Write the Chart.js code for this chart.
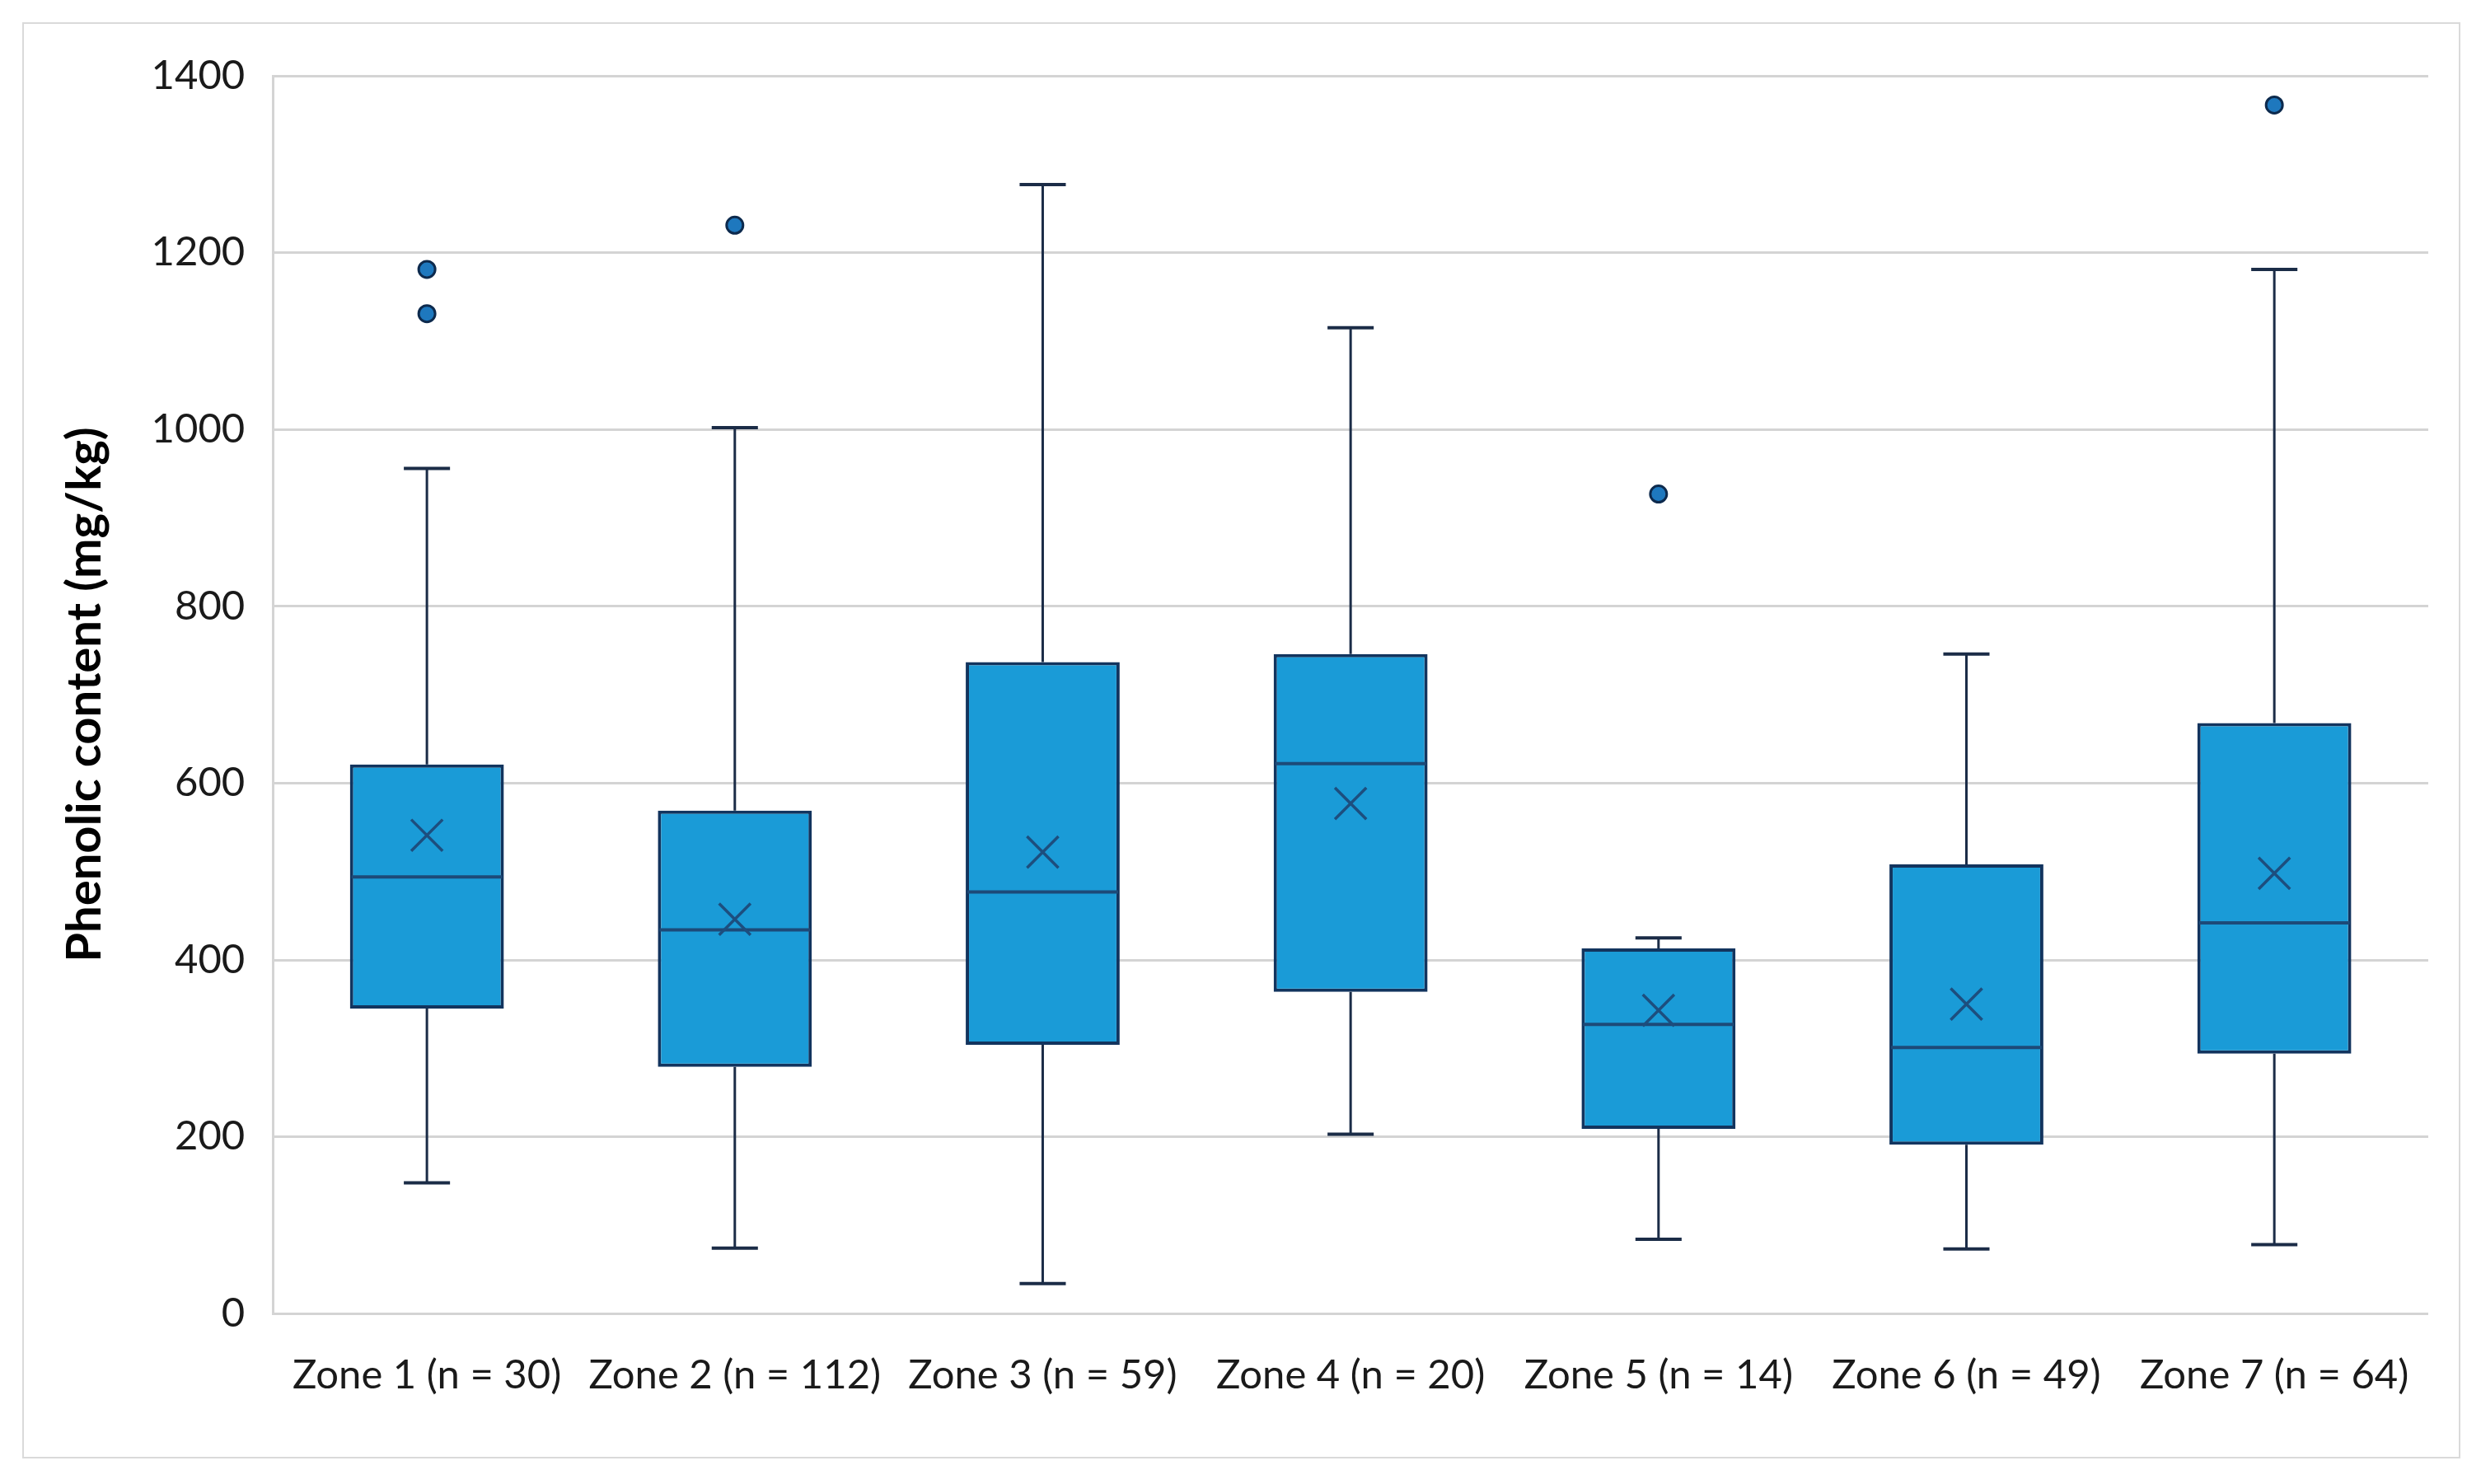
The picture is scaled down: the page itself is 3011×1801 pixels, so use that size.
<!DOCTYPE html>
<html>
<head>
<meta charset="utf-8">
<script src="https://cdn.jsdelivr.net/npm/chart.js@4.4.1/dist/chart.umd.min.js"></script>
<style>
  html, body { margin: 0; padding: 0; background: #fff; }
  #frame { position: absolute; left: 27px; top: 27px; width: 2955px; height: 1739px; border: 2px solid #dadada; }
  #myChart { position: absolute; left: 0; top: 0; }
</style>
</head>
<body>
<div id="frame"></div>
<canvas id="myChart" width="3011" height="1801"></canvas>
<script>
const ctx = document.getElementById('myChart').getContext('2d');

const labels = [
  'Zone 1 (n = 30)',
  'Zone 2 (n = 112)',
  'Zone 3 (n = 59)',
  'Zone 4 (n = 20)',
  'Zone 5 (n = 14)',
  'Zone 6 (n = 49)',
  'Zone 7 (n = 64)',
];

// box plot statistics
const whiskerLow = [148, 74, 34, 203, 84, 73, 78];
const q1 = [345, 279, 304, 364, 209, 191, 294];
const median = [494, 434, 477, 622, 327, 301, 442];
const q3 = [621, 569, 737, 746, 413, 508, 668];
const whiskerHigh = [956, 1002, 1277, 1115, 425, 746, 1181];
const means = [541, 446, 522, 577, 343, 350, 498];

// outliers: zone index + value
const outlierZone = [0, 0, 1, 4, 6];
const outlierValue = [1181, 1131, 1231, 927, 1367];

const yTicks = [0, 200, 400, 600, 800, 1000, 1200, 1400];

const fontFamily = 'Lato, "Open Sans", sans-serif';

// whiskers and medians, drawn right after the boxes
const boxLines = {
  id: 'boxLines',
  afterDatasetDraw(chart, args) {
    if (args.index !== 0) return;
    const c = chart.ctx;
    const y = chart.scales.y;
    c.save();
    args.meta.data.forEach((bar, i) => {
      const x = bar.x;
      const half = bar.width / 2;
      const cap = bar.width * 0.15;
      const yHi = y.getPixelForValue(whiskerHigh[i]);
      const yLo = y.getPixelForValue(whiskerLow[i]);
      c.strokeStyle = '#1b2c47';
      c.lineWidth = 3;
      c.beginPath();
      c.moveTo(x, yHi);
      c.lineTo(x, y.getPixelForValue(q3[i]));
      c.moveTo(x, y.getPixelForValue(q1[i]));
      c.lineTo(x, yLo);
      c.stroke();
      c.lineWidth = 4;
      c.beginPath();
      c.moveTo(x - cap, yHi);
      c.lineTo(x + cap, yHi);
      c.moveTo(x - cap, yLo);
      c.lineTo(x + cap, yLo);
      c.stroke();
      // median
      const yMed = y.getPixelForValue(median[i]);
      c.strokeStyle = '#1d4a78';
      c.lineWidth = 4;
      c.beginPath();
      c.moveTo(x - half + 2, yMed);
      c.lineTo(x + half - 2, yMed);
      c.stroke();
    });
    c.restore();
  },
};

const data = {
  labels,
  datasets: [
    {
      type: 'bar',
      data: labels.map((_, i) => [q1[i], q3[i]]),
      backgroundColor: '#1a9bd7',
      borderColor: '#12345e',
      borderWidth: 4,
      borderSkipped: false,
      categoryPercentage: 0.5,
      barPercentage: 1,
      order: 2,
    },
    {
      type: 'line',
      data: means,
      showLine: false,
      pointStyle: 'crossRot',
      pointRadius: 27,
      pointBorderWidth: 3.5,
      pointBorderColor: '#1d4e7e',
      order: 1,
    },
    {
      type: 'line',
      data: outlierZone.map((z, k) => ({ x: labels[z], y: outlierValue[k] })),
      showLine: false,
      pointStyle: 'circle',
      pointRadius: 10,
      pointBorderWidth: 3,
      pointBackgroundColor: '#1e78be',
      pointBorderColor: '#0d2a4d',
      order: 0,
    },
  ],
};

const config = {
  type: 'bar',
  data: data,
  plugins: [boxLines],
  options: {
    responsive: false,
    devicePixelRatio: 1,
    animation: false,
    layout: {
      padding: { left: 68, right: 64, top: 92, bottom: 64 },
    },
    plugins: {
      legend: { display: false },
      tooltip: { enabled: false },
    },
    scales: {
      x: {
        grid: { display: false },
        border: { display: false },
        ticks: {
          autoSkip: false,
          maxRotation: 0,
          padding: 38,
          color: '#1a1a1a',
          font: { family: fontFamily, size: 49 },
        },
      },
      y: {
        min: 0,
        max: 1400,
        afterBuildTicks: (axis) => {
          axis.ticks = yTicks.map((v) => ({ value: v }));
        },
        grid: { color: '#d4d4d4', lineWidth: 3, drawTicks: false },
        border: { display: true, color: '#d4d4d4', width: 3 },
        ticks: {
          padding: 34,
          color: '#1a1a1a',
          font: { family: fontFamily, size: 49 },
          callback: (value) => String(value),
        },
        title: {
          display: true,
          text: 'Phenolic content (mg/kg)',
          color: '#000',
          padding: { top: 0, bottom: 12 },
          font: { family: fontFamily, size: 58, weight: 'bold' },
        },
      },
    },
  },
};

const myChart = new Chart(ctx, config);
</script>
</body>
</html>
